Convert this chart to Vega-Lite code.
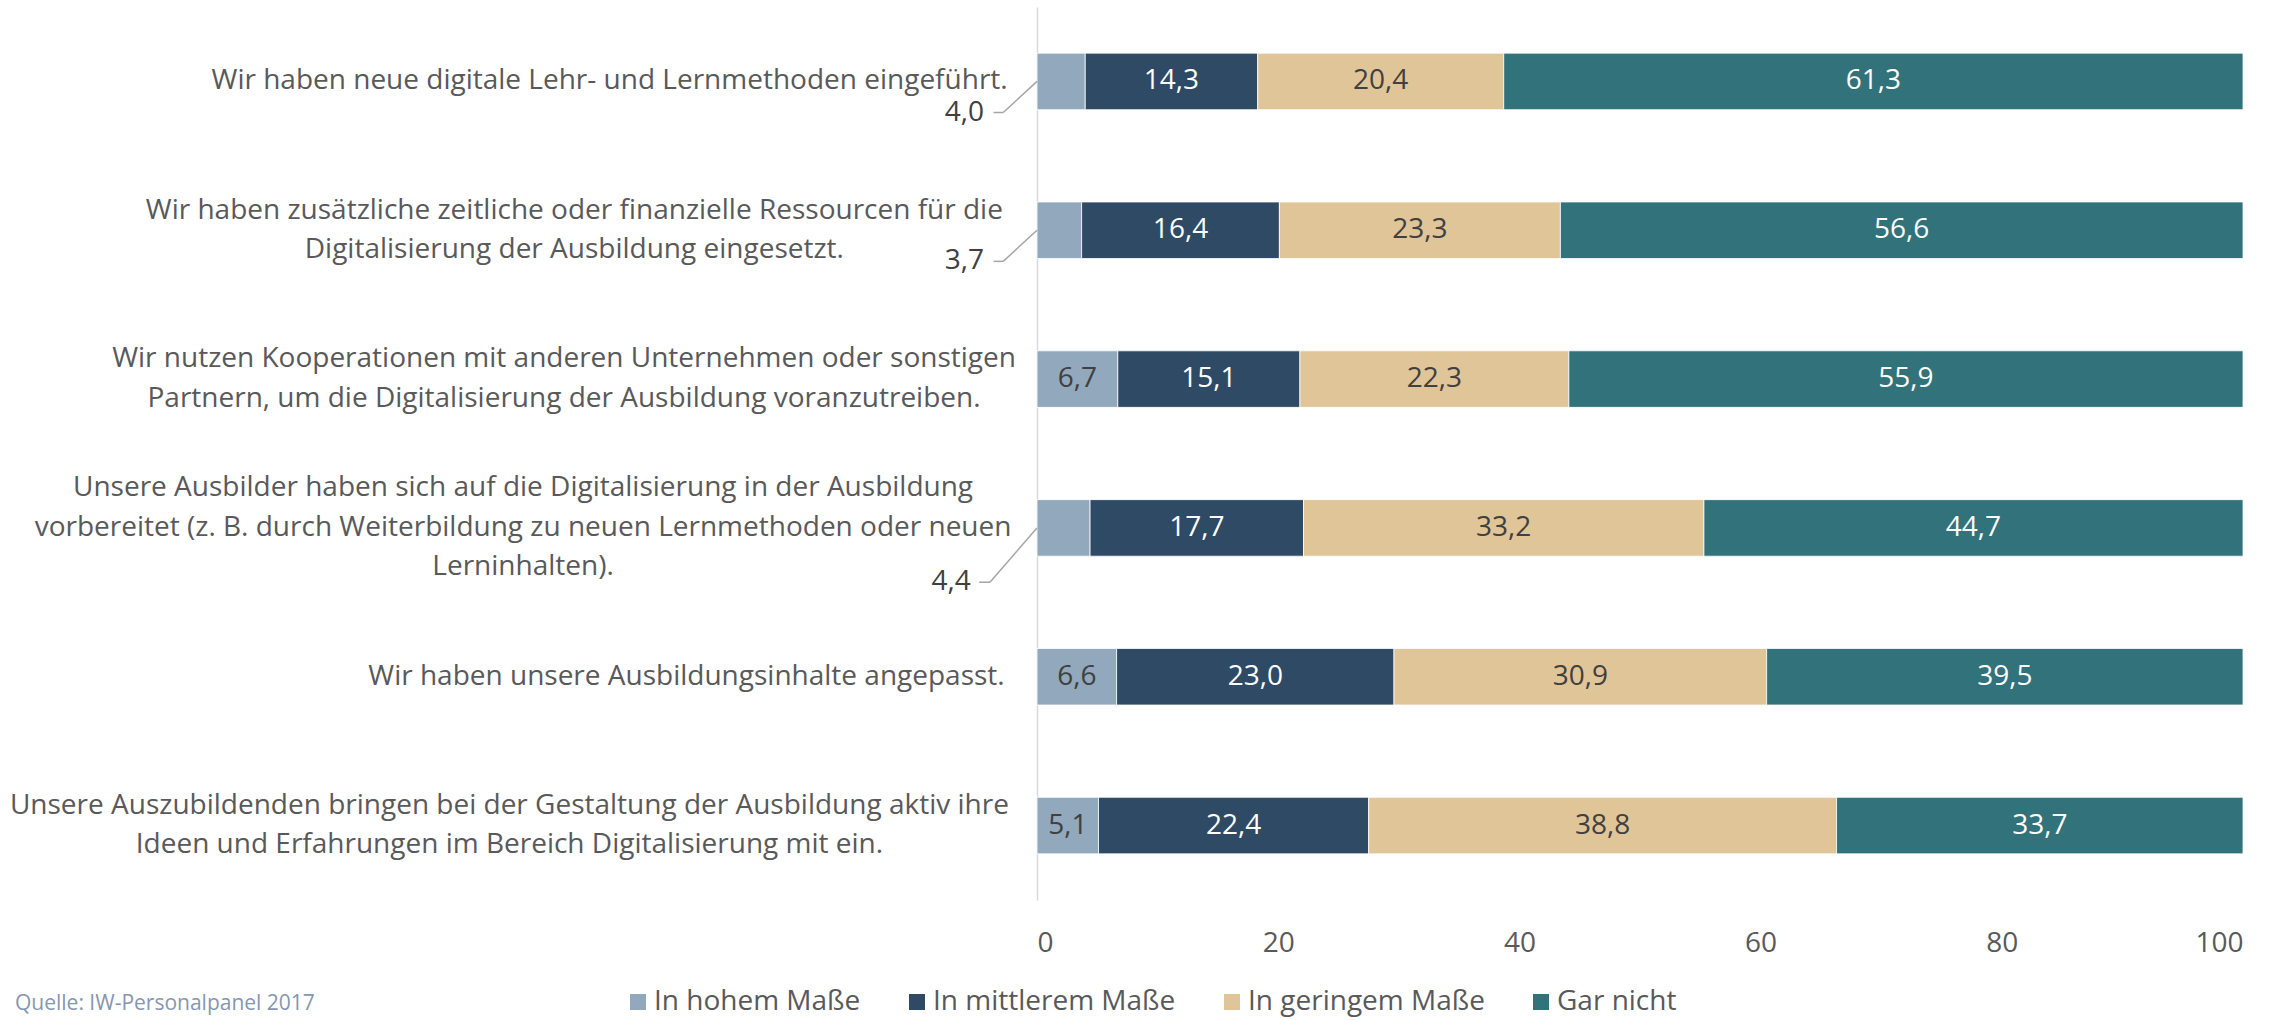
{
  "$schema": "https://vega.github.io/schema/vega-lite/v6.json",
  "width": 1206,
  "height": 893,
  "autosize": {"type": "none"},
  "padding": {"left": 1037, "top": 7, "right": 50, "bottom": 120},
  "background": "white",
  "config": {
    "locale": {"number": {"decimal": ",", "thousands": ".", "grouping": [3], "currency": ["", " €"]}},
    "font": "Open Sans",
    "view": {"stroke": null}
  },
  "title": {
    "text": "Quelle: IW-Personalpanel 2017",
    "orient": "bottom",
    "anchor": "start",
    "frame": "group",
    "dx": -1022,
    "offset": -23,
    "fontSize": 21,
    "fontWeight": "normal",
    "color": "#8497B0"
  },
  "data": {
    "values": [
      {"item": "Wir haben neue digitale Lehr- und Lernmethoden eingeführt.", "category": "In hohem Maße", "value": 4.0},
      {"item": "Wir haben neue digitale Lehr- und Lernmethoden eingeführt.", "category": "In mittlerem Maße", "value": 14.3},
      {"item": "Wir haben neue digitale Lehr- und Lernmethoden eingeführt.", "category": "In geringem Maße", "value": 20.4},
      {"item": "Wir haben neue digitale Lehr- und Lernmethoden eingeführt.", "category": "Gar nicht", "value": 61.3},
      {"item": "Wir haben zusätzliche zeitliche oder finanzielle Ressourcen für die\nDigitalisierung der Ausbildung eingesetzt.", "category": "In hohem Maße", "value": 3.7},
      {"item": "Wir haben zusätzliche zeitliche oder finanzielle Ressourcen für die\nDigitalisierung der Ausbildung eingesetzt.", "category": "In mittlerem Maße", "value": 16.4},
      {"item": "Wir haben zusätzliche zeitliche oder finanzielle Ressourcen für die\nDigitalisierung der Ausbildung eingesetzt.", "category": "In geringem Maße", "value": 23.3},
      {"item": "Wir haben zusätzliche zeitliche oder finanzielle Ressourcen für die\nDigitalisierung der Ausbildung eingesetzt.", "category": "Gar nicht", "value": 56.6},
      {"item": "Wir nutzen Kooperationen mit anderen Unternehmen oder sonstigen\nPartnern, um die Digitalisierung der Ausbildung voranzutreiben.", "category": "In hohem Maße", "value": 6.7},
      {"item": "Wir nutzen Kooperationen mit anderen Unternehmen oder sonstigen\nPartnern, um die Digitalisierung der Ausbildung voranzutreiben.", "category": "In mittlerem Maße", "value": 15.1},
      {"item": "Wir nutzen Kooperationen mit anderen Unternehmen oder sonstigen\nPartnern, um die Digitalisierung der Ausbildung voranzutreiben.", "category": "In geringem Maße", "value": 22.3},
      {"item": "Wir nutzen Kooperationen mit anderen Unternehmen oder sonstigen\nPartnern, um die Digitalisierung der Ausbildung voranzutreiben.", "category": "Gar nicht", "value": 55.9},
      {"item": "Unsere Ausbilder haben sich auf die Digitalisierung in der Ausbildung\nvorbereitet (z. B. durch Weiterbildung zu neuen Lernmethoden oder neuen\nLerninhalten).", "category": "In hohem Maße", "value": 4.4},
      {"item": "Unsere Ausbilder haben sich auf die Digitalisierung in der Ausbildung\nvorbereitet (z. B. durch Weiterbildung zu neuen Lernmethoden oder neuen\nLerninhalten).", "category": "In mittlerem Maße", "value": 17.7},
      {"item": "Unsere Ausbilder haben sich auf die Digitalisierung in der Ausbildung\nvorbereitet (z. B. durch Weiterbildung zu neuen Lernmethoden oder neuen\nLerninhalten).", "category": "In geringem Maße", "value": 33.2},
      {"item": "Unsere Ausbilder haben sich auf die Digitalisierung in der Ausbildung\nvorbereitet (z. B. durch Weiterbildung zu neuen Lernmethoden oder neuen\nLerninhalten).", "category": "Gar nicht", "value": 44.7},
      {"item": "Wir haben unsere Ausbildungsinhalte angepasst.", "category": "In hohem Maße", "value": 6.6},
      {"item": "Wir haben unsere Ausbildungsinhalte angepasst.", "category": "In mittlerem Maße", "value": 23.0},
      {"item": "Wir haben unsere Ausbildungsinhalte angepasst.", "category": "In geringem Maße", "value": 30.9},
      {"item": "Wir haben unsere Ausbildungsinhalte angepasst.", "category": "Gar nicht", "value": 39.5},
      {"item": "Unsere Auszubildenden bringen bei der Gestaltung der Ausbildung aktiv ihre\nIdeen und Erfahrungen im Bereich Digitalisierung mit ein.", "category": "In hohem Maße", "value": 5.1},
      {"item": "Unsere Auszubildenden bringen bei der Gestaltung der Ausbildung aktiv ihre\nIdeen und Erfahrungen im Bereich Digitalisierung mit ein.", "category": "In mittlerem Maße", "value": 22.4},
      {"item": "Unsere Auszubildenden bringen bei der Gestaltung der Ausbildung aktiv ihre\nIdeen und Erfahrungen im Bereich Digitalisierung mit ein.", "category": "In geringem Maße", "value": 38.8},
      {"item": "Unsere Auszubildenden bringen bei der Gestaltung der Ausbildung aktiv ihre\nIdeen und Erfahrungen im Bereich Digitalisierung mit ein.", "category": "Gar nicht", "value": 33.7}
    ]
  },
  "transform": [
    {"calculate": "indexof(['In hohem Maße','In mittlerem Maße','In geringem Maße','Gar nicht'], datum.category)", "as": "rank"},
    {"stack": "value", "groupby": ["item"], "sort": [{"field": "rank", "order": "ascending"}], "as": ["x0", "x1"]},
    {"calculate": "(datum.x0 + datum.x1) / 2", "as": "xm"}
  ],
  "encoding": {
    "y": {
      "field": "item",
      "type": "nominal",
      "sort": null,
      "scale": {"paddingInner": 0.62, "paddingOuter": 0.31},
      "axis": {
        "title": null,
        "domainColor": "#D9D9D9",
        "domainWidth": 1.5,
        "ticks": false,
        "labelFontSize": 28,
        "labelColor": "#595959",
        "labelLineHeight": 39.5,
        "labelLimit": 1100,
        "labelAlign": "center",
        "labelBaseline": "middle",
        "labelPadding": {"expr": "32 + 14 * max(0.491*length(split(datum.value, '\\n')[0]) + 0.3*length(replace(split(datum.value, '\\n')[0], regexp('[iljtfr .,()-]', 'g'), '')) + 0.1*length(replace(split(datum.value, '\\n')[0], regexp('[szc]', 'g'), '')) - 0.3*length(replace(split(datum.value, '\\n')[0], regexp('[mwMW]', 'g'), '')), 0.491*length(split(datum.value, '\\n')[1] || '') + 0.3*length(replace(split(datum.value, '\\n')[1] || '', regexp('[iljtfr .,()-]', 'g'), '')) + 0.1*length(replace(split(datum.value, '\\n')[1] || '', regexp('[szc]', 'g'), '')) - 0.3*length(replace(split(datum.value, '\\n')[1] || '', regexp('[mwMW]', 'g'), '')), 0.491*length(split(datum.value, '\\n')[2] || '') + 0.3*length(replace(split(datum.value, '\\n')[2] || '', regexp('[iljtfr .,()-]', 'g'), '')) + 0.1*length(replace(split(datum.value, '\\n')[2] || '', regexp('[szc]', 'g'), '')) - 0.3*length(replace(split(datum.value, '\\n')[2] || '', regexp('[mwMW]', 'g'), '')))"},
        "labelOffset": {"expr": "-19.75 * (length(split(datum.value, '\\n')) - 1)"},
        "labelExpr": "split(datum.label, '\\n')"
      }
    }
  },
  "layer": [
    {
      "mark": {"type": "bar", "stroke": "white", "strokeWidth": 0.8},
      "encoding": {
        "x": {
          "field": "x0",
          "type": "quantitative",
          "scale": {"domain": [0, 100], "nice": false},
          "axis": {
            "title": null,
            "values": [0, 20, 40, 60, 80, 100],
            "format": "d",
            "grid": false,
            "domain": false,
            "ticks": false,
            "labelFontSize": 28,
            "labelColor": "#595959",
            "labelPadding": 29
          }
        },
        "x2": {"field": "x1"},
        "color": {
          "field": "category",
          "type": "nominal",
          "scale": {
            "domain": ["In hohem Maße", "In mittlerem Maße", "In geringem Maße", "Gar nicht"],
            "range": ["#91A8BD", "#2E4A65", "#E0C598", "#31727B"]
          },
          "legend": {
            "orient": "none",
            "legendX": -413,
            "legendY": 981,
            "direction": "horizontal",
            "title": null,
            "symbolType": "square",
            "symbolSize": 256,
            "symbolStrokeWidth": 0,
            "labelFontSize": 28,
            "labelColor": "#595959",
            "labelLimit": 400,
            "labelOffset": 2,
            "columnPadding": 42
          }
        }
      }
    },
    {
      "transform": [{"filter": "datum.value >= 5"}],
      "mark": {"type": "text", "align": "center", "baseline": "middle", "fontSize": 28},
      "encoding": {
        "x": {"field": "xm", "type": "quantitative"},
        "text": {"field": "value", "type": "quantitative", "format": ".1f"},
        "color": {
          "condition": {"test": "datum.category === 'In mittlerem Maße' || datum.category === 'Gar nicht'", "value": "#FFFFFF"},
          "value": "#404040"
        }
      }
    },
    {
      "transform": [{"filter": "datum.category === 'In hohem Maße' && datum.value < 5 && indexof(datum.item, 'Ausbilder haben') < 0"}],
      "mark": {"type": "rule", "color": "#A6A6A6", "strokeWidth": 1.5},
      "encoding": {
        "x": {"datum": 0},
        "x2": {"datum": -2.8},
        "y": {"field": "item", "type": "nominal", "sort": null, "bandPosition": 0.5},
        "y2": {"field": "item", "bandPosition": 1.05}
      }
    },
    {
      "transform": [{"filter": "datum.category === 'In hohem Maße' && datum.value < 5 && indexof(datum.item, 'Ausbilder haben') < 0"}],
      "mark": {"type": "rule", "color": "#A6A6A6", "strokeWidth": 1.5},
      "encoding": {
        "x": {"datum": -2.8},
        "x2": {"datum": -3.6},
        "y": {"field": "item", "type": "nominal", "sort": null, "bandPosition": 1.05}
      }
    },
    {
      "transform": [{"filter": "datum.category === 'In hohem Maße' && datum.value < 5 && indexof(datum.item, 'Ausbilder haben') < 0"}],
      "mark": {"type": "text", "align": "right", "baseline": "middle", "fontSize": 28, "color": "#404040"},
      "encoding": {
        "x": {"datum": -4.4},
        "y": {"field": "item", "type": "nominal", "sort": null, "bandPosition": 1.05},
        "text": {"field": "value", "type": "quantitative", "format": ".1f"}
      }
    },
    {
      "transform": [{"filter": "datum.category === 'In hohem Maße' && datum.value < 5 && indexof(datum.item, 'Ausbilder haben') >= 0"}],
      "mark": {"type": "rule", "color": "#A6A6A6", "strokeWidth": 1.5},
      "encoding": {
        "x": {"datum": 0},
        "x2": {"datum": -3.9},
        "y": {"field": "item", "type": "nominal", "sort": null, "bandPosition": 0.5},
        "y2": {"field": "item", "bandPosition": 1.46}
      }
    },
    {
      "transform": [{"filter": "datum.category === 'In hohem Maße' && datum.value < 5 && indexof(datum.item, 'Ausbilder haben') >= 0"}],
      "mark": {"type": "rule", "color": "#A6A6A6", "strokeWidth": 1.5},
      "encoding": {
        "x": {"datum": -3.9},
        "x2": {"datum": -4.8},
        "y": {"field": "item", "type": "nominal", "sort": null, "bandPosition": 1.46}
      }
    },
    {
      "transform": [{"filter": "datum.category === 'In hohem Maße' && datum.value < 5 && indexof(datum.item, 'Ausbilder haben') >= 0"}],
      "mark": {"type": "text", "align": "right", "baseline": "middle", "fontSize": 28, "color": "#404040"},
      "encoding": {
        "x": {"datum": -5.5},
        "y": {"field": "item", "type": "nominal", "sort": null, "bandPosition": 1.46},
        "text": {"field": "value", "type": "quantitative", "format": ".1f"}
      }
    }
  ]
}
